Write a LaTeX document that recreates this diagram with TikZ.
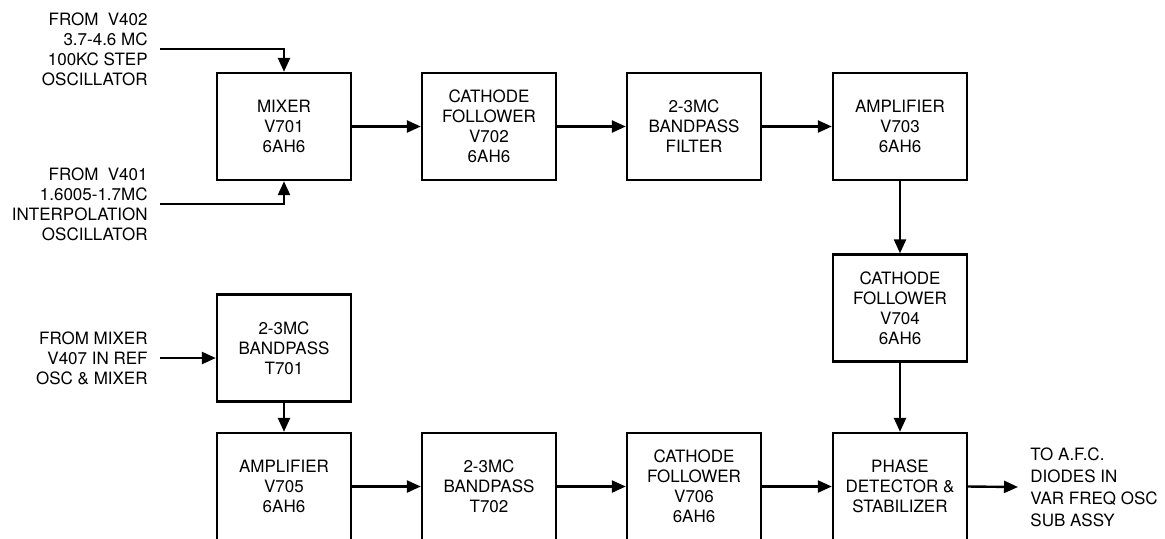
\documentclass[tikz,border=0pt]{standalone}
\usepackage{fontspec}
\setmainfont{TeX Gyre Heros}
\usetikzlibrary{arrows.meta,positioning}

\begin{document}
\begin{tikzpicture}[
    x=0.5pt, y=-0.5pt,
    font=\fontsize{8.5}{10}\selectfont,
    box/.style={rectangle, draw, line width=1.2pt, minimum width=67pt, minimum height=53.5pt, align=center, inner sep=2pt},
    lbl/.style={inner xsep=6pt, inner ysep=0pt},
    arrow/.style={-{Triangle[length=7pt,width=6pt]}, line width=1.2pt}
]
    \useasboundingbox (0,0) rectangle (1165,538);

    % top row
    \node[box] (mixer) at (284,126.5) {MIXER\\V701\\6AH6};
    \node[box] (cf702) at (489,126.5) {CATHODE\\FOLLOWER\\V702\\6AH6};
    \node[box] (bpf) at (694,126.5) {2-3MC\\BANDPASS\\FILTER};
    \node[box] (amp703) at (900,126.5) {AMPLIFIER\\V703\\6AH6};
    \node[box] (cf704) at (900,308) {CATHODE\\FOLLOWER\\V704\\6AH6};

    % bottom row
    \node[box] (bp701) at (284,348) {2-3MC\\BANDPASS\\T701};
    \node[box] (amp705) at (284,486.5) {AMPLIFIER\\V705\\6AH6};
    \node[box] (bp702) at (489,486.5) {2-3MC\\BANDPASS\\T702};
    \node[box] (cf706) at (694,486.5) {CATHODE\\FOLLOWER\\V706\\6AH6};
    \node[box] (phase) at (900,486.5) {PHASE\\DETECTOR \&\\STABILIZER};

    % inputs and output
    \node[lbl, align=right, anchor=east] (src402) at (160,49) {FROM~~V402\\3.7-4.6 MC\\100KC STEP\\OSCILLATOR};
    \node[lbl, align=right, anchor=east] (src401) at (160,204) {FROM~~V401\\1.6005-1.7MC\\INTERPOLATION\\OSCILLATOR};
    \node[lbl, align=right, anchor=east] (src407) at (160,358) {FROM MIXER\\V407 IN REF\\OSC \& MIXER};
    \node[lbl, align=left, anchor=west, font=\fontsize{8.5}{11}\selectfont] (afc) at (1018,487) {TO A.F.C.\\DIODES IN\\VAR FREQ OSC\\SUB ASSY};

    \draw[arrow] (src402.east) -| (mixer.north);
    \draw[arrow] (src401.east) -| (mixer.south);
    \draw[arrow] (mixer) -- (cf702);
    \draw[arrow] (cf702) -- (bpf);
    \draw[arrow] (bpf) -- (amp703);
    \draw[arrow] (amp703) -- (cf704);
    \draw[arrow] (cf704) -- (phase);
    \draw[arrow] (src407.east) -- (src407.east -| bp701.west);
    \draw[arrow] (bp701) -- (amp705);
    \draw[arrow] (amp705) -- (bp702);
    \draw[arrow] (bp702) -- (cf706);
    \draw[arrow] (cf706) -- (phase);
    \draw[arrow] (phase.east) -- (afc.west);
\end{tikzpicture}
\end{document}
